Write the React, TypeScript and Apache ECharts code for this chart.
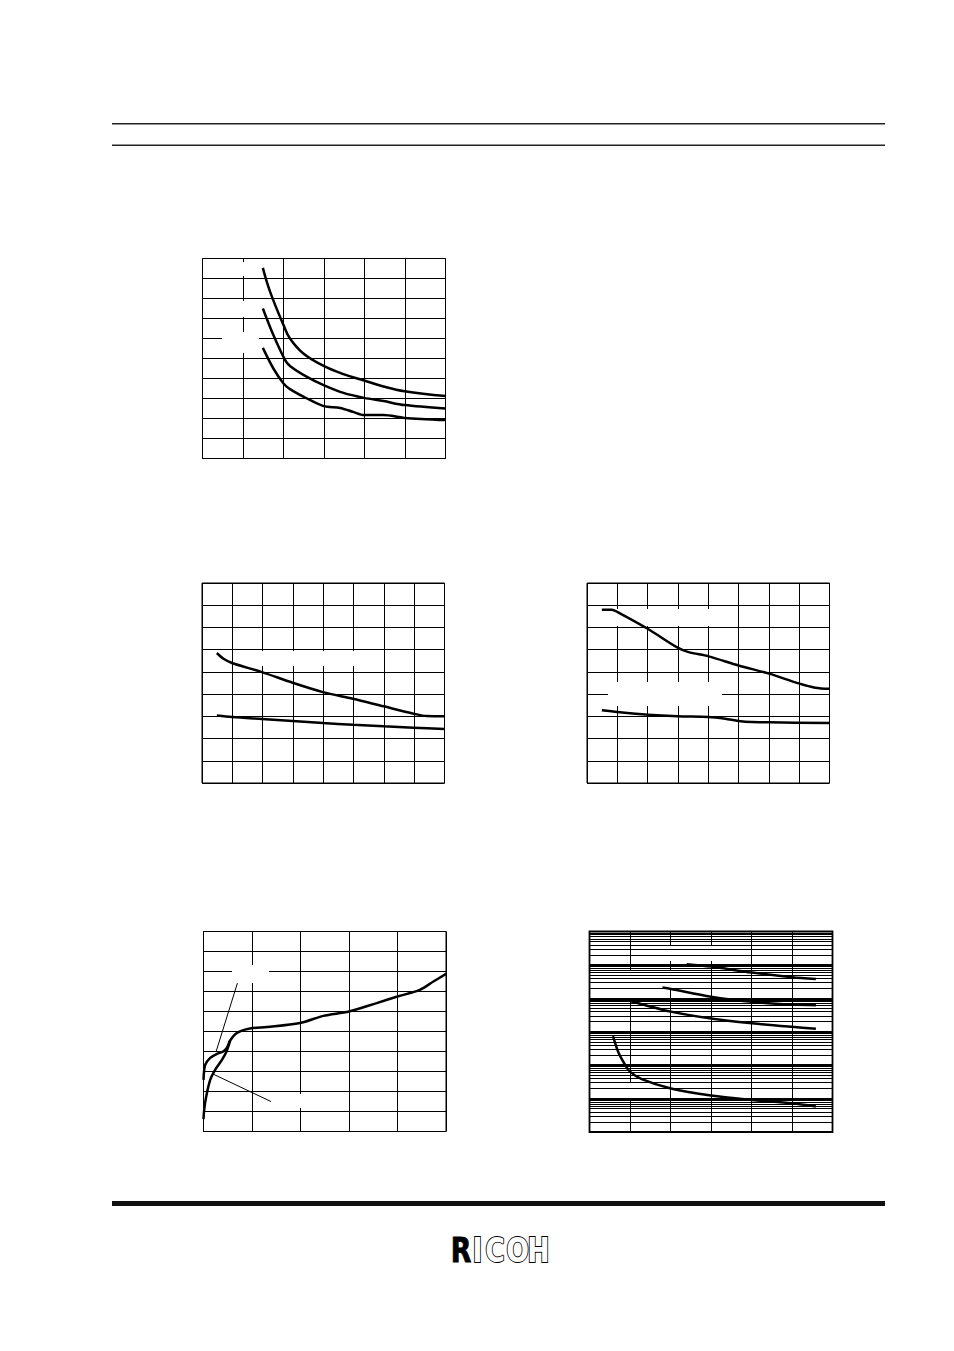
import React, { useEffect, useRef } from "react";
import * as echarts from "echarts";

// ---------- DATA ----------
// Chart 1 (top-left): 6 x-divisions, 10 y-divisions
const c1CurveA: [number, number][] = [[1.49, 9.53], [1.67, 8.33], [2.0, 6.67], [2.16, 6.0], [2.49, 5.25], [2.99, 4.63], [3.48, 4.22], [3.99, 3.9], [4.47, 3.6], [4.99, 3.36], [6.0, 3.12]];
const c1CurveB: [number, number][] = [[1.49, 7.5], [1.75, 6.17], [2.04, 4.92], [2.16, 4.63], [2.58, 4.08], [2.99, 3.67], [3.48, 3.28], [3.99, 3.03], [4.47, 2.87], [4.99, 2.67], [6.0, 2.5]];
const c1CurveC: [number, number][] = [[1.49, 5.53], [1.75, 4.5], [2.0, 3.75], [2.16, 3.47], [2.58, 3.0], [2.99, 2.62], [3.4, 2.53], [3.72, 2.33], [3.99, 2.17], [4.47, 2.17], [4.99, 2.03], [6.0, 1.92]];

// Chart 2 (middle-left): 8 x-divisions, 9 y-divisions
const c2Upper: [number, number][] = [[0.49, 5.85], [0.71, 5.59], [0.99, 5.4], [1.98, 4.99], [2.99, 4.51], [3.99, 4.09], [4.98, 3.79], [5.99, 3.45], [6.98, 3.12], [7.42, 3.01], [8, 3.0]];
const c2Lower: [number, number][] = [[0.49, 3.04], [0.99, 2.97], [1.98, 2.88], [2.99, 2.79], [3.99, 2.7], [4.98, 2.62], [5.99, 2.55], [6.98, 2.49], [8, 2.43]];

// Chart 3 (middle-right): 8 x-divisions, 9 y-divisions
const c3Upper: [number, number][] = [[0.49, 7.8], [0.82, 7.8], [1.01, 7.69], [2.0, 6.94], [2.99, 6.09], [3.35, 5.89], [4.01, 5.7], [5.0, 5.29], [6.01, 4.92], [7.01, 4.47], [7.53, 4.29], [8, 4.24]];
const c3Lower: [number, number][] = [[0.49, 3.27], [1.01, 3.19], [2.0, 3.07], [2.99, 3.0], [4.01, 2.97], [4.56, 2.89], [5.0, 2.79], [5.44, 2.74], [6.01, 2.73], [8, 2.7]];

// Chart 4 (bottom-left): 5 x-divisions, 10 y-divisions
const c4CurveA: [number, number][] = [[0, 0.62], [0.014, 1.08], [0.056, 1.75], [0.138, 2.58], [0.24, 3.08], [0.38, 3.58], [0.48, 4.03], [0.55, 4.55]];
const c4CurveB: [number, number][] = [[0, 2.58], [0.035, 3.33], [0.138, 3.68], [0.276, 3.88], [0.406, 4.0], [0.48, 4.18], [0.55, 4.55], [0.69, 4.93], [0.96, 5.15], [1.31, 5.22], [1.99, 5.42], [2.47, 5.78], [3.0, 6.0], [3.57, 6.42], [4.0, 6.75], [4.46, 7.08], [4.74, 7.5], [5.0, 7.88]];
const c4Leader1: [number, number][] = [[0.26, 4.0], [0.7, 7.42]];
const c4Leader2: [number, number][] = [[0.19, 2.88], [1.39, 1.5]];

// Chart 5 (bottom-right): 6 x-divisions, log y axis 1 .. 1e6
const c5Curve1: [number, number][] = [[2.4, 105000], [3.0, 89000], [4.01, 59000], [5.0, 43000], [5.59, 38000]];
const c5Curve2: [number, number][] = [[1.8, 21000], [2.01, 19000], [3.0, 11200], [4.01, 7900], [5.0, 6500], [5.59, 6200]];
const c5Curve3: [number, number][] = [[0.99, 8500], [2.01, 4000], [3.0, 2500], [4.01, 1800], [5.0, 1400], [5.59, 1230]];
const c5Curve4: [number, number][] = [[0.58, 740], [0.72, 230], [0.88, 102], [0.99, 65], [1.29, 38], [2.01, 20], [3.0, 12.3], [4.01, 9.1], [5.0, 7.2], [5.59, 5.8]];

// log-axis grid ticks
const c5Decades = [1, 10, 100, 1000, 10000, 100000];
const c5Mantissas = [2, 3, 4, 5, 6, 7, 8, 9];
const c5MinorTicks = c5Decades.flatMap((d) => c5Mantissas.map((m) => m * d));
const c5MajorTicks = [10, 100, 1000, 10000, 100000];

const logoLetters = ["R", "I", "C", "O", "H"];

// ---------- LAYOUT ----------
const GRIDS = [
  { left: 202.5, top: 258.5, width: 243, height: 200, xMax: 6, yMax: 10, log: false },
  { left: 202, top: 583, width: 242.5, height: 200, xMax: 8, yMax: 9, log: false },
  { left: 587, top: 583, width: 242.5, height: 200, xMax: 8, yMax: 9, log: false },
  { left: 203.5, top: 931.5, width: 242.5, height: 200, xMax: 5, yMax: 10, log: false },
  { left: 589.5, top: 931.5, width: 243, height: 200.5, xMax: 6, yMax: 6, log: true },
];

const MASKS = [
  // chart 1
  [232, 262, 20, 14], [230, 301, 25, 16], [222, 332, 37, 21],
  // chart 2
  [255, 651, 103, 15],
  // chart 3
  [612, 609, 121, 17], [608, 682, 114, 24],
  // chart 4
  [232, 965, 37, 18], [272, 1094, 50, 14],
  // chart 5
  [654, 945, 65, 16], [625, 971, 57, 18], [597, 989, 58, 10], [599, 1083, 47, 15],
];

const logoX = [461, 477.5, 495, 517.5, 538.5];

export default function App() {
  const ref = useRef<HTMLDivElement>(null);

  useEffect(() => {
    if (!ref.current) return;
    const chart = echarts.init(ref.current, undefined, { renderer: "svg" });

    const grid = GRIDS.map((g) => ({
      left: g.left, top: g.top, width: g.width, height: g.height,
      show: true, borderColor: "#000", borderWidth: g.log ? 1.8 : 1, backgroundColor: "transparent",
      containLabel: false,
    }));
    const hidden = { axisLine: { show: false }, axisTick: { show: false }, axisLabel: { show: false } };
    const xAxis = GRIDS.map((g, i) => ({
      gridIndex: i, type: "value", min: 0, max: g.xMax, interval: 1, ...hidden,
      splitLine: { show: true, lineStyle: { color: "#000", width: 1 } },
    }));
    const yAxis = GRIDS.map((g, i) =>
      g.log
        ? { gridIndex: i, type: "log", logBase: 10, min: 1, max: 1000000, ...hidden, splitLine: { show: false } }
        : {
            gridIndex: i, type: "value", min: 0, max: g.yMax, interval: 1, ...hidden,
            splitLine: { show: true, lineStyle: { color: "#000", width: 1 } },
          }
    );

    const curve = (idx: number, data: [number, number][], width = 2.5, smooth: number | boolean = 0.3) => ({
      type: "line", xAxisIndex: idx, yAxisIndex: idx, data, symbol: "none", showSymbol: false,
      smooth, silent: true, z: 10,
      lineStyle: { color: "#000", width },
    });

    const series: any[] = [
      curve(0, c1CurveA, 2.5, 0.4), curve(0, c1CurveB), curve(0, c1CurveC),
      curve(1, c2Upper), curve(1, c2Lower),
      curve(2, c3Upper), curve(2, c3Lower),
      curve(3, c4CurveA), curve(3, c4CurveB),
      curve(3, c4Leader1, 1, false), curve(3, c4Leader2, 1, false),
      curve(4, c5Curve1), curve(4, c5Curve2), curve(4, c5Curve3), curve(4, c5Curve4),
      {
        type: "line", xAxisIndex: 4, yAxisIndex: 4, data: [], silent: true, z: 1,
        markLine: {
          silent: true, symbol: ["none", "none"], label: { show: false },
          lineStyle: { color: "#000", width: 1, type: "solid" },
          data: c5MinorTicks.map((v) => ({ yAxis: v })),
        },
      },
      {
        type: "line", xAxisIndex: 4, yAxisIndex: 4, data: [], silent: true, z: 1,
        markLine: {
          silent: true, symbol: ["none", "none"], label: { show: false },
          lineStyle: { color: "#000", width: 2, type: "solid" },
          data: c5MajorTicks.map((v) => ({ yAxis: v })),
        },
      },
    ];

    const graphic: any[] = [
      { type: "rect", shape: { x: 112, y: 123, width: 773, height: 1.4 }, style: { fill: "#222" }, z: 5 },
      { type: "rect", shape: { x: 112, y: 144.5, width: 773, height: 1.4 }, style: { fill: "#222" }, z: 5 },
      { type: "rect", shape: { x: 112, y: 1201, width: 773, height: 5 }, style: { fill: "#111" }, z: 5 },
      ...MASKS.map(([x, y, w, h]) => ({
        type: "rect", shape: { x, y, width: w, height: h }, style: { fill: "#fff" }, z: 5, silent: true,
      })),
      ...logoLetters.map((t, i) => ({
        type: "text", x: logoX[i], y: 1250.5, z: 20, scaleX: 0.9,
        style: {
          text: t,
          fontSize: 33,
          fontWeight: "bold",
          fontFamily: "'DejaVu Sans Condensed', 'DejaVu Sans', sans-serif",
          fill: i === 0 ? "#000" : "#fff",
          stroke: "#000",
          lineWidth: i === 0 ? 0.8 : 1.8,
          textAlign: "center",
          align: "center",
          textVerticalAlign: "middle",
          verticalAlign: "middle",
        },
      })),
    ];

    chart.setOption({
      animation: false,
      backgroundColor: "#fff",
      grid, xAxis, yAxis, series, graphic,
    });

    return () => chart.dispose();
  }, []);

  return (
    <div
      ref={ref}
      style={{ position: "absolute", left: 0, top: 0, width: 954, height: 1351, background: "#fff" }}
    />
  );
}
